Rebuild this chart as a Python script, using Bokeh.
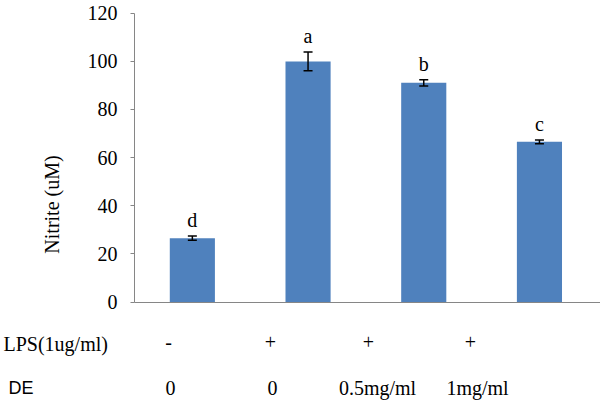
import numpy as np
from bokeh.plotting import figure
from bokeh.models import (ColumnDataSource, Range1d, FixedTicker, Whisker, TeeHead,
                          LabelSet, Label)
from bokeh.embed import file_html
from bokeh.resources import INLINE

# ---- data ----
groups = ["G1", "G2", "G3", "G4"]
nitrite = [26.5, 99.9, 91.0, 66.5]
sem = [0.9, 3.9, 1.3, 0.8]
letters = ["d", "a", "b", "c"]
lps_row = ["-", "+", "+", "+"]
de_row = ["0", "0", "0.5mg/ml", "1mg/ml"]
row_titles = ["LPS(1ug/ml)", "DE"]
y_ticks = [0, 20, 40, 60, 80, 100, 120]

SERIF = "Liberation Serif"
BLUE = "#4F81BD"
AXIS_GRAY = "#868686"

# ---- layout (window pixel targets) ----
W, H = 600, 401
WIN_L, WIN_T = 0, 0
AX_X = 134.0          # window x of the y axis (x data = 0)
PX_PER_CAT = 115.7    # pixels per category
AX_Y0 = 301.5         # window y of value 0
AX_Y120 = 12.5        # window y of value 120
ppu = (AX_Y0 - AX_Y120) / 120.0

def px2x(px):
    return (px - AX_X) / PX_PER_CAT

def px2y(py):
    return (AX_Y0 - py) / ppu

x_start, x_end = px2x(WIN_L), px2x(WIN_L + W)
y_start, y_end = px2y(WIN_T + H), px2y(WIN_T)

xs = np.arange(len(groups)) + 0.5
src = ColumnDataSource(dict(
    x=xs, top=nitrite,
    upper=[v + e for v, e in zip(nitrite, sem)],
    lower=[v - e for v, e in zip(nitrite, sem)],
    letters=letters,
))

p = figure(width=W, height=H, output_backend="svg", toolbar_location=None,
           x_range=Range1d(x_start, x_end), y_range=Range1d(y_start, y_end),
           min_border=0)
p.outline_line_color = None
p.grid.grid_line_color = None
p.background_fill_color = "white"
p.border_fill_color = "white"

p.vbar(x="x", top="top", width=0.39, source=src, fill_color=BLUE, line_color=None)

p.add_layout(Whisker(source=src, base="x", upper="upper", lower="lower",
                     level="overlay",
                     line_color="black", line_width=1.5,
                     upper_head=TeeHead(size=9, line_color="black", line_width=1.5),
                     lower_head=TeeHead(size=9, line_color="black", line_width=1.5)))

p.add_layout(LabelSet(x="x", y="upper", text="letters", source=src,
                      y_offset=9, text_align="center", text_baseline="alphabetic",
                      text_font=SERIF, text_font_size="20px", text_color="black"))

# axes, fixed inside the frame
p.yaxis.fixed_location = 0
p.yaxis.bounds = (0, 120)
p.yaxis.ticker = FixedTicker(ticks=y_ticks)
p.yaxis.minor_tick_line_color = None
p.yaxis.major_tick_in = 0
p.yaxis.major_tick_out = 4
p.yaxis.major_tick_line_color = AXIS_GRAY
p.yaxis.axis_line_color = AXIS_GRAY
p.yaxis.major_label_text_font = SERIF
p.yaxis.major_label_text_font_size = "20px"
p.yaxis.major_label_text_color = "black"
p.yaxis.major_label_standoff = 13

p.xaxis.fixed_location = 0
p.xaxis.bounds = (0, x_end)
p.xaxis.ticker = FixedTicker(ticks=[])
p.xaxis.minor_tick_line_color = None
p.xaxis.major_tick_line_color = None
p.xaxis.axis_line_color = AXIS_GRAY
p.xaxis.major_label_text_font_size = "0px"

# y axis title
p.add_layout(Label(x=px2x(51), y=px2y(204), text="Nitrite (uM)",
                   angle=np.pi / 2, text_align="center", text_baseline="middle",
                   text_font=SERIF, text_font_size="20px", text_color="black"))

# treatment table below the axis
lps_y, de_y = 343, 387
p.add_layout(Label(x=px2x(3), y=px2y(lps_y), text=row_titles[0],
                   text_align="left", text_baseline="middle",
                   text_font=SERIF, text_font_size="20px", text_color="black"))
p.add_layout(Label(x=px2x(8), y=px2y(de_y), text=row_titles[1],
                   text_align="left", text_baseline="middle",
                   text_font="Liberation Sans", text_font_size="18px", text_color="black"))
lps_px = [168, 270, 368, 470]
de_px = [170, 272, 377, 477]
for i in range(len(groups)):
    p.add_layout(Label(x=px2x(lps_px[i]), y=px2y(lps_y - 2), text=lps_row[i],
                       text_align="center", text_baseline="middle",
                       text_font=SERIF, text_font_size="20px", text_color="black"))
    p.add_layout(Label(x=px2x(de_px[i]), y=px2y(de_y), text=de_row[i],
                       text_align="center", text_baseline="middle",
                       text_font=SERIF, text_font_size="20px", text_color="black"))

open("out.html", "w").write(file_html(p, INLINE))
